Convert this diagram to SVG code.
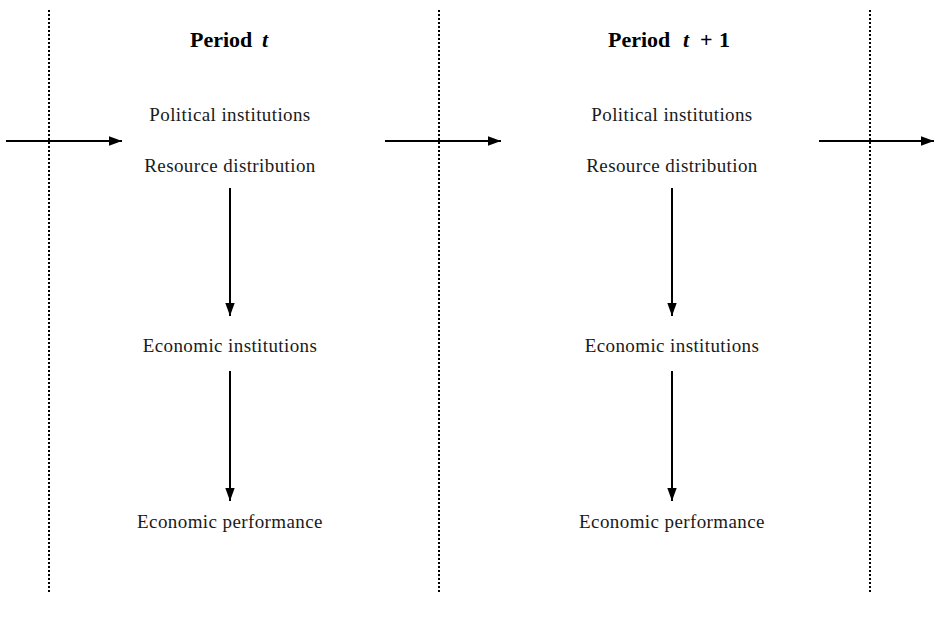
<svg xmlns="http://www.w3.org/2000/svg" width="936" height="619" viewBox="0 0 936 619">
<style>
.div{stroke:#000;stroke-width:2;stroke-dasharray:2 2;fill:none}
.con{stroke:#000;stroke-width:2;fill:none}
.t{font-family:"Liberation Serif",serif;font-size:19px;letter-spacing:0.4px;fill:#1a1a1a;text-anchor:middle}
.h{font-family:"Liberation Serif",serif;font-size:22px;font-weight:bold;fill:#000}
.i{font-style:italic}
</style>
<defs>
<marker id="ah" viewBox="0 0 10 10" refX="10" refY="5" markerWidth="6.5" markerHeight="6.5" markerUnits="strokeWidth" orient="auto">
<path d="M0,1.4 L10,5 L0,8.6 z" fill="#000"/>
</marker>
</defs>
<rect width="936" height="619" fill="#fff"/>
<g id="dividers">
<line class="div" x1="49" y1="10" x2="49" y2="592"/>
<line class="div" x1="439" y1="10" x2="439" y2="592"/>
<line class="div" x1="870" y1="10" x2="870" y2="592"/>
</g>
<g id="connectors">
<line class="con" x1="6" y1="141" x2="122" y2="141" marker-end="url(#ah)"/>
<line class="con" x1="385" y1="141" x2="501" y2="141" marker-end="url(#ah)"/>
<line class="con" x1="819" y1="141" x2="934" y2="141" marker-end="url(#ah)"/>
<line class="con" x1="230" y1="188" x2="230" y2="316" marker-end="url(#ah)"/>
<line class="con" x1="230" y1="371" x2="230" y2="501" marker-end="url(#ah)"/>
<line class="con" x1="672" y1="188" x2="672" y2="316" marker-end="url(#ah)"/>
<line class="con" x1="672" y1="371" x2="672" y2="501" marker-end="url(#ah)"/>
</g>
<g id="title-t"><text class="h" x="190" y="47">Period<tspan class="i" x="262">t</tspan></text></g>
<g id="title-t1"><text class="h" x="608" y="47">Period<tspan class="i" x="683">t</tspan><tspan x="700">+</tspan><tspan x="719">1</tspan></text></g>
<g id="pol-t"><text class="t" x="230" y="121">Political institutions</text></g>
<g id="res-t"><text class="t" x="230" y="172">Resource distribution</text></g>
<g id="econ-inst-t"><text class="t" x="230" y="352">Economic institutions</text></g>
<g id="econ-perf-t"><text class="t" x="230" y="528">Economic performance</text></g>
<g id="pol-t1"><text class="t" x="672" y="121">Political institutions</text></g>
<g id="res-t1"><text class="t" x="672" y="172">Resource distribution</text></g>
<g id="econ-inst-t1"><text class="t" x="672" y="352">Economic institutions</text></g>
<g id="econ-perf-t1"><text class="t" x="672" y="528">Economic performance</text></g>
</svg>
